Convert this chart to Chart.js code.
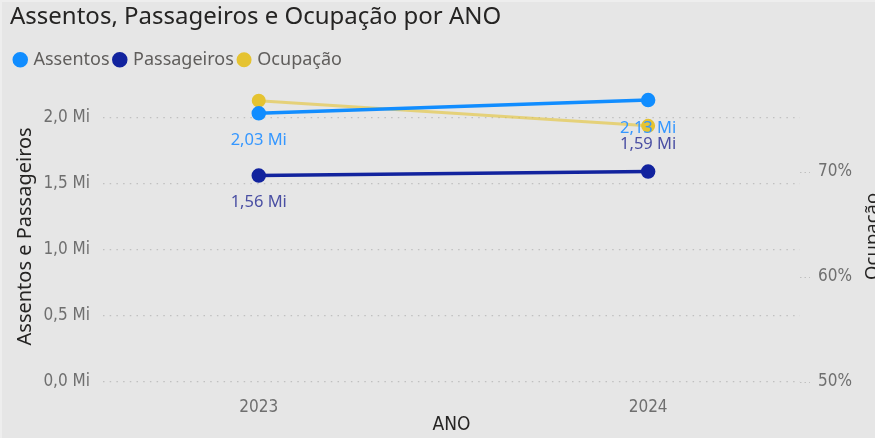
<!DOCTYPE html>
<html>
<head>
<meta charset="utf-8">
<script src="https://cdn.jsdelivr.net/npm/chart.js@4/dist/chart.umd.min.js"></script>
<style>
  html, body { margin: 0; padding: 0; background: #e6e6e6; }
  #wrap { width: 875px; height: 438px; box-shadow: inset 2px 2px 0 #eeeeee; }
</style>
</head>
<body>
<div id="wrap"><canvas id="chart"></canvas></div>
<script>
// Dados (valores em milhões / %)
const YEARS       = [2023, 2024];
const ASSENTOS    = [2.03, 2.13];
const PASSAGEIROS = [1.56, 1.59];
const OCUPACAO    = [76.8, 74.4];

const LEFT_TICKS  = [0, 0.5, 1.0, 1.5, 2.0];
const RIGHT_TICKS = [50, 60, 70];

const COLORS = {
    assentos:    '#118DFF',
    passageiros: '#12239E',
    ocupacao:    '#E5C331',
    ocupLine:    'rgba(229, 195, 49, 0.6)',
    lblAssent:   '#3597ff',
    lblPassag:   '#4a4fa3',
    tick:        '#6f6f6f',
    title:       '#252423',
    legend:      '#605e5c',
    grid:        '#c0c0c0',
};

const SANS = "'Noto Sans', 'Open Sans', sans-serif";
const NARROW = "'Liberation Sans Narrow', 'DejaVu Sans Condensed', Roboto, sans-serif";

const fmtMi = (v, d) => v.toFixed(d).replace('.', ',') + ' Mi';
const pts = (arr) => YEARS.map((y, i) => ({ x: y, y: arr[i] }));

// espaço extra entre legenda e área do gráfico
const legendGap = {
    id: 'legendGap',
    beforeInit(chart) {
        const fit = chart.legend.fit;
        chart.legend.fit = function () {
            fit.bind(chart.legend)();
            this.height += 12;
        };
    }
};

// rótulos de dados sob / sobre os pontos
const valueLabels = {
    id: 'valueLabels',
    afterDatasetsDraw(chart) {
        const ctx = chart.ctx;
        chart.data.datasets.forEach((ds, i) => {
            if (!ds.labelOffsets) return;
            const meta = chart.getDatasetMeta(i);
            ctx.save();
            ctx.font = '16.5px ' + SANS;
            ctx.fillStyle = ds.labelColor;
            ctx.textAlign = 'center';
            ctx.textBaseline = 'middle';
            meta.data.forEach((p, j) => {
                ctx.fillText(fmtMi(ds.data[j].y, 2), p.x, p.y + ds.labelOffsets[j]);
            });
            ctx.restore();
        });
    },
    afterDraw(chart) {
        // título do eixo direito, lido de baixo para cima
        const ctx = chart.ctx;
        const a = chart.chartArea;
        ctx.save();
        ctx.translate(878, (a.top + a.bottom) / 2);
        ctx.rotate(-Math.PI / 2);
        ctx.font = '18.5px ' + SANS;
        ctx.fillStyle = COLORS.title;
        ctx.textAlign = 'center';
        ctx.textBaseline = 'alphabetic';
        ctx.fillText('Ocupação', 0, 0);
        ctx.restore();
    }
};

new Chart(document.getElementById('chart'), {
    type: 'line',
    data: {
        datasets: [
            {
                label: 'Assentos',
                data: pts(ASSENTOS),
                yAxisID: 'y',
                borderColor: COLORS.assentos,
                backgroundColor: COLORS.assentos,
                borderWidth: 3.5,
                pointRadius: 5.5,
                labelOffsets: [27, 28],
                labelColor: COLORS.lblAssent,
            },
            {
                label: 'Passageiros',
                data: pts(PASSAGEIROS),
                yAxisID: 'y',
                borderColor: COLORS.passageiros,
                backgroundColor: COLORS.passageiros,
                borderWidth: 3.5,
                pointRadius: 5.5,
                labelOffsets: [27, -27],
                labelColor: COLORS.lblPassag,
            },
            {
                label: 'Ocupação',
                data: pts(OCUPACAO),
                yAxisID: 'y1',
                borderColor: COLORS.ocupLine,
                backgroundColor: COLORS.ocupacao,
                pointBorderColor: COLORS.ocupacao,
                borderWidth: 3,
                pointRadius: 5.5,
            },
        ],
    },
    options: {
        responsive: true,
        maintainAspectRatio: false,
        animation: false,
        layout: { padding: { left: 10, right: 0, top: 0, bottom: 0 } },
        plugins: {
            title: {
                display: true,
                text: 'Assentos, Passageiros e Ocupação por ANO',
                align: 'start',
                color: COLORS.title,
                font: { family: SANS, size: 24, weight: 'normal' },
                padding: { top: 3, bottom: 13 },
            },
            legend: {
                position: 'top',
                align: 'start',
                labels: {
                    usePointStyle: true,
                    pointStyle: 'circle',
                    boxWidth: 8.5,
                    boxHeight: 8.5,
                    padding: 6,
                    color: COLORS.legend,
                    font: { family: SANS, size: 18 },
                },
            },
            tooltip: { enabled: false },
        },
        scales: {
            x: {
                type: 'linear',
                min: 2022.6,
                max: 2024.39,
                afterBuildTicks: (s) => { s.ticks = YEARS.map(v => ({ value: v })); },
                afterFit: (s) => { s.height = 56; },
                grid: { display: false },
                border: { display: false },
                ticks: {
                    padding: 7,
                    color: COLORS.tick,
                    font: { family: NARROW, size: 17 },
                    callback: (v) => String(v),
                },
                title: {
                    display: true,
                    text: 'ANO',
                    color: COLORS.title,
                    font: { family: NARROW, size: 19 },
                    padding: { top: 0, bottom: 2 },
                },
            },
            y: {
                position: 'left',
                min: 0,
                max: 2.2,
                afterBuildTicks: (s) => { s.ticks = LEFT_TICKS.map(v => ({ value: v })); },
                afterFit: (s) => { s.width = 93; },
                grid: { color: COLORS.grid, lineWidth: 1.2, drawTicks: false, borderDash: [1.5, 5.2] },
                border: { display: false, dash: [1.5, 5.2] },
                ticks: {
                    padding: 13,
                    color: COLORS.tick,
                    font: { family: NARROW, size: 17 },
                    callback: (v) => fmtMi(v, 1),
                },
                title: {
                    display: true,
                    text: 'Assentos e Passageiros',
                    color: COLORS.title,
                    font: { family: SANS, size: 20 },
                    padding: { top: 3, bottom: 0 },
                },
            },
            y1: {
                position: 'right',
                min: 50,
                max: 77.74,
                afterBuildTicks: (s) => { s.ticks = RIGHT_TICKS.map(v => ({ value: v })); },
                afterFit: (s) => { s.width = 75; },
                grid: {
                    drawOnChartArea: false,
                    drawTicks: true,
                    tickLength: 10,
                    tickColor: COLORS.grid,
                    tickBorderDash: [1.5, 3],
                },
                border: { display: false },
                ticks: {
                    padding: 8,
                    color: COLORS.tick,
                    font: { family: NARROW, size: 17 },
                    callback: (v) => v + '%',
                },
            },
        },
    },
    plugins: [legendGap, valueLabels],
});
</script>
</body>
</html>
